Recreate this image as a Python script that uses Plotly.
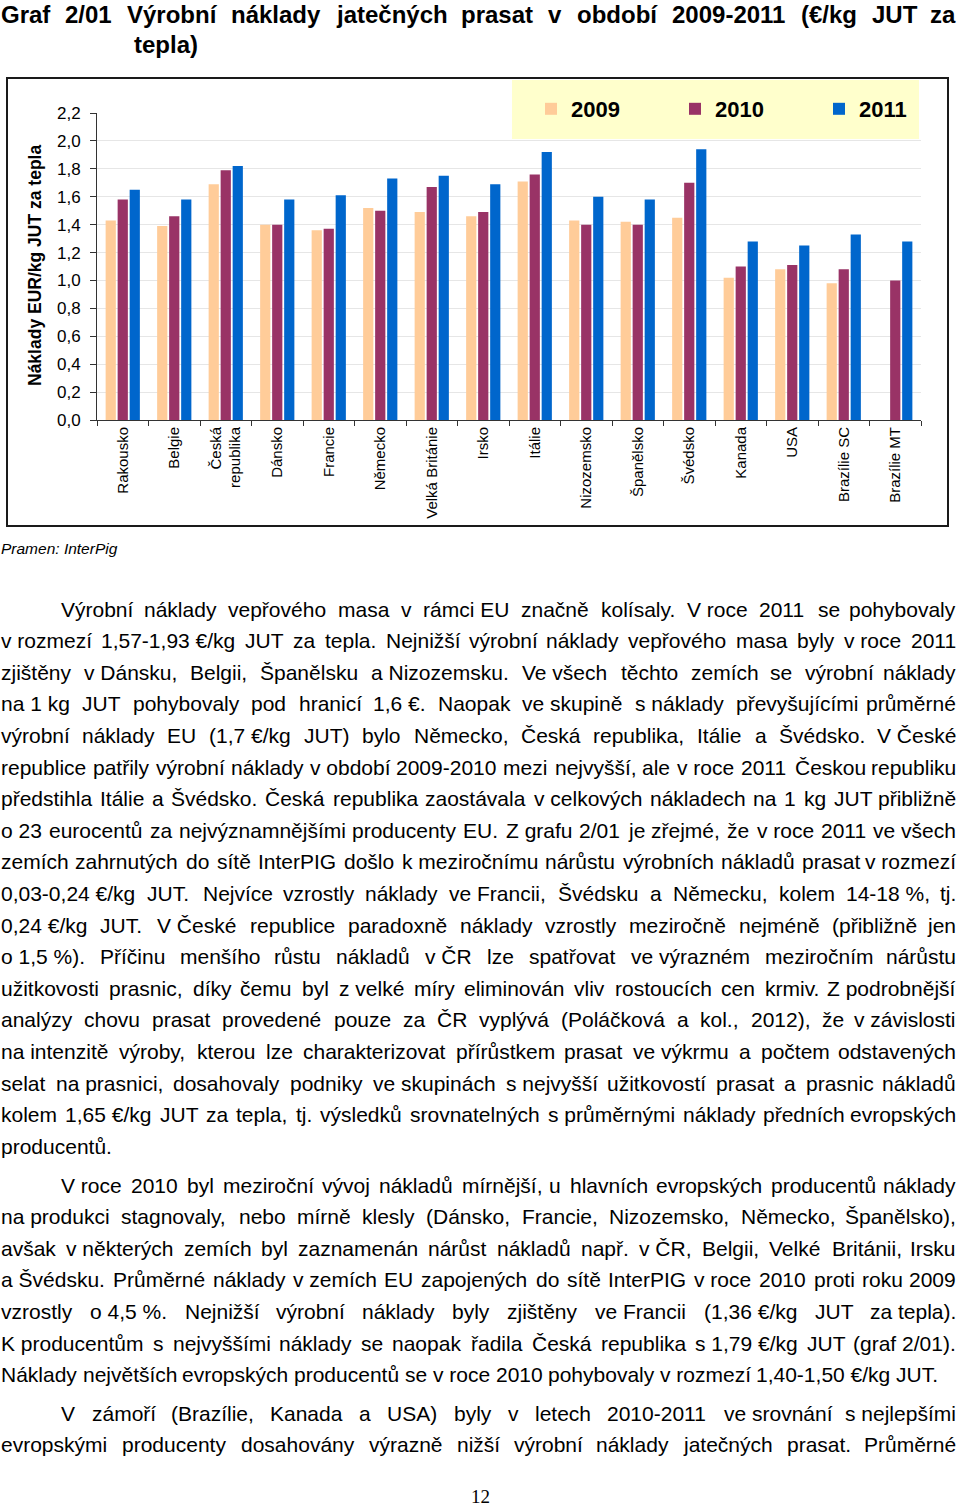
import unicodedata
import plotly.graph_objects as go

# ---------------- data ----------------
categories = ["Rakousko", "Belgie", "Česká republika", "Dánsko", "Francie", "Německo",
              "Velká Británie", "Irsko", "Itálie", "Nizozemsko", "Španělsko", "Švédsko",
              "Kanada", "USA", "Brazílie SC", "Brazílie MT"]
tick_labels = ["Rakousko", "Belgie", "Česká<br>republika", "Dánsko", "Francie", "Německo",
               "Velká Británie", "Irsko", "Itálie", "Nizozemsko", "Španělsko", "Švédsko",
               "Kanada", "USA", "Brazílie SC", "Brazílie MT"]
costs_2009 = [1.43, 1.39, 1.69, 1.40, 1.36, 1.52, 1.49, 1.46, 1.71, 1.43, 1.42, 1.45,
              1.02, 1.08, 0.98, None]
costs_2010 = [1.58, 1.46, 1.79, 1.40, 1.37, 1.50, 1.67, 1.49, 1.76, 1.40, 1.40, 1.70,
              1.10, 1.11, 1.08, 1.00]
costs_2011 = [1.65, 1.58, 1.82, 1.58, 1.61, 1.73, 1.75, 1.69, 1.92, 1.60, 1.58, 1.94,
              1.28, 1.25, 1.33, 1.28]
series_names = ["2009", "2010", "2011"]
y_tick_vals = [0.0, 0.2, 0.4, 0.6, 0.8, 1.0, 1.2, 1.4, 1.6, 1.8, 2.0, 2.2]
y_tick_text = ["0,0", "0,2", "0,4", "0,6", "0,8", "1,0", "1,2", "1,4", "1,6", "1,8", "2,0", "2,2"]

title_lines = ["Graf 2/01 Výrobní náklady jatečných prasat v období 2009-2011 (€/kg JUT za",
               "tepla)"]
y_title = "Náklady EUR/kg JUT za tepla"
source_text = "Pramen: InterPig"
page_number = "12"

paragraphs = [
    [
        "Výrobní náklady vepřového masa v rámci_EU značně kolísaly. V_roce 2011 se pohybovaly",
        "v_rozmezí 1,57-1,93_€/kg JUT za tepla. Nejnižší výrobní náklady vepřového masa byly v_roce 2011",
        "zjištěny v_Dánsku, Belgii, Španělsku a_Nizozemsku. Ve_všech těchto zemích se výrobní náklady",
        "na_1_kg JUT pohybovaly pod hranicí 1,6_€. Naopak ve_skupině s_náklady převyšujícími průměrné",
        "výrobní náklady EU (1,7_€/kg JUT) bylo Německo, Česká republika, Itálie a Švédsko. V_České",
        "republice patřily výrobní náklady v_období 2009-2010 mezi nejvyšší, ale v_roce 2011 Českou republiku",
        "předstihla Itálie a Švédsko. Česká republika zaostávala v_celkových nákladech na 1 kg JUT přibližně",
        "o_23 eurocentů za nejvýznamnějšími producenty EU. Z_grafu 2/01 je zřejmé, že v_roce 2011 ve_všech",
        "zemích zahrnutých do sítě InterPIG došlo k_meziročnímu nárůstu výrobních nákladů prasat v_rozmezí",
        "0,03-0,24_€/kg JUT. Nejvíce vzrostly náklady ve_Francii, Švédsku a Německu, kolem 14-18_%, tj.",
        "0,24_€/kg JUT. V_České republice paradoxně náklady vzrostly meziročně nejméně (přibližně jen",
        "o_1,5_%). Příčinu menšího růstu nákladů v_ČR lze spatřovat ve_výrazném meziročním nárůstu",
        "užitkovosti prasnic, díky čemu byl z_velké míry eliminován vliv rostoucích cen krmiv. Z_podrobnější",
        "analýzy chovu prasat provedené pouze za ČR vyplývá (Poláčková a kol., 2012), že v_závislosti",
        "na_intenzitě výroby, kterou lze charakterizovat přírůstkem prasat ve_výkrmu a počtem odstavených",
        "selat na_prasnici, dosahovaly podniky ve_skupinách s_nejvyšší užitkovostí prasat a prasnic nákladů",
        "kolem 1,65_€/kg JUT za tepla, tj. výsledků srovnatelných s_průměrnými náklady předních evropských",
        "producentů.",
    ],
    [
        "V_roce 2010 byl meziroční vývoj nákladů mírnější, u hlavních evropských producentů náklady",
        "na_produkci stagnovaly, nebo mírně klesly (Dánsko, Francie, Nizozemsko, Německo, Španělsko),",
        "avšak v_některých zemích byl zaznamenán nárůst nákladů např. v_ČR, Belgii, Velké Británii, Irsku",
        "a_Švédsku. Průměrné náklady v_zemích EU zapojených do sítě InterPIG v_roce 2010 proti roku 2009",
        "vzrostly o_4,5_%. Nejnižší výrobní náklady byly zjištěny ve_Francii (1,36_€/kg JUT za_tepla).",
        "K_producentům s nejvyššími náklady se naopak řadila Česká republika s_1,79_€/kg JUT (graf_2/01).",
        "Náklady největších evropských producentů se v_roce 2010 pohybovaly v_rozmezí 1,40-1,50_€/kg JUT.",
    ],
    [
        "V zámoří (Brazílie, Kanada a USA) byly v letech 2010-2011 ve_srovnání s_nejlepšími",
        "evropskými producenty dosahovány výrazně nižší výrobní náklady jatečných prasat. Průměrné",
    ],
]

# ---------------- geometry helpers ----------------
FIG_W, FIG_H = 960, 1507
PL, PR, PT, PB = 97, 921, 113, 420   # plot area in pixels
PW, PH = PR - PL, PB - PT


def px_x(px):
    return (px - PL) / PW


def px_y(py):
    return (PB - py) / PH


# Arial / Liberation Sans advance widths (1/1000 em)
REG = dict(zip(" !%(),-./0123456789:;€", [278, 278, 889, 333, 333, 278, 333, 278, 278] + [556] * 10 + [278, 278, 556]))
REG.update(dict(zip("ABCDEFGHIJKLMNOPQRSTUVWXYZ",
                    [667, 667, 722, 722, 667, 611, 778, 722, 278, 500, 667, 556, 833, 722, 778, 667, 778, 722, 667, 611, 722, 667, 944, 667, 667, 611])))
REG.update(dict(zip("abcdefghijklmnopqrstuvwxyz",
                    [556, 556, 500, 556, 556, 278, 556, 556, 222, 222, 500, 222, 833, 556, 556, 556, 556, 333, 500, 278, 556, 500, 722, 500, 500, 500])))
BOLD = dict(zip(" !%(),-./0123456789:;€", [278, 333, 889, 333, 333, 278, 333, 278, 278] + [556] * 10 + [333, 333, 556]))
BOLD.update(dict(zip("ABCDEFGHIJKLMNOPQRSTUVWXYZ",
                     [722, 722, 722, 722, 667, 611, 778, 722, 278, 556, 722, 611, 833, 722, 778, 667, 778, 722, 667, 611, 722, 667, 944, 667, 667, 611])))
BOLD.update(dict(zip("abcdefghijklmnopqrstuvwxyz",
                     [556, 611, 556, 611, 556, 333, 611, 611, 278, 278, 556, 278, 889, 611, 611, 611, 611, 389, 556, 333, 611, 556, 778, 556, 556, 500])))


def char_w(ch, table):
    if ch in table:
        return table[ch]
    base = unicodedata.normalize("NFD", ch)[0]
    return table.get(base, 556)


def text_w(s, size, table):
    return sum(char_w(c, table) for c in s) * size / 1000.0


SANS = "Liberation Sans, Arial, sans-serif"
annotations = []


def place_line(line, left, right, yc, size, bold=False, justify=True, color="black"):
    table = BOLD if bold else REG
    tokens = [t.replace("_", " ") for t in line.split(" ")]
    widths = [text_w(t, size, table) for t in tokens]
    n = len(tokens)
    if justify and n > 1:
        gap = (right - left - sum(widths)) / (n - 1)
    else:
        gap = char_w(" ", table) * size / 1000.0
    x = left
    for i, (tok, w) in enumerate(zip(tokens, widths)):
        txt = "<b>%s</b>" % tok if bold else tok
        if justify and n > 1 and i == n - 1:
            annotations.append(dict(x=px_x(right), y=px_y(yc), xref="paper", yref="paper",
                                    text=txt, showarrow=False, xanchor="right", yanchor="middle",
                                    borderpad=0, font=dict(family=SANS, size=size, color=color)))
        else:
            annotations.append(dict(x=px_x(x), y=px_y(yc), xref="paper", yref="paper",
                                    text=txt, showarrow=False, xanchor="left", yanchor="middle",
                                    borderpad=0, font=dict(family=SANS, size=size, color=color)))
        x += w + gap


# ---------------- title ----------------
t_units = text_w(title_lines[0], 1, BOLD)
TITLE_SIZE = min(24.0, 950.0 / t_units)
place_line(title_lines[0], 0, 957, 14, TITLE_SIZE, bold=True, justify=True)
place_line(title_lines[1], 133, 957, 45, TITLE_SIZE, bold=True, justify=False)

# ---------------- body text ----------------
BODY = 21
para_starts = [609, 1185, 1413]
LINE_H = 31.6
for p, y0 in zip(paragraphs, para_starts):
    for i, line in enumerate(p):
        left = 60 if i == 0 else 0
        last = (i == len(p) - 1) and len(p) > 2
        place_line(line, left, 957, y0 + i * LINE_H, BODY, justify=not last)

# source, page number, y axis title
annotations.append(dict(x=px_x(0), y=px_y(548), xref="paper", yref="paper", text="<i>%s</i>" % source_text,
                        showarrow=False, xanchor="left", yanchor="middle", borderpad=0,
                        font=dict(family=SANS, size=15.5, color="black")))
annotations.append(dict(x=px_x(480), y=px_y(1508), xref="paper", yref="paper", text=page_number,
                        showarrow=False, xanchor="center", yanchor="bottom", borderpad=0,
                        font=dict(family="Liberation Serif, Times New Roman, serif", size=19, color="black")))
annotations.append(dict(x=px_x(35), y=px_y(266), xref="paper", yref="paper", text="<b>%s</b>" % y_title,
                        showarrow=False, textangle=-90, xanchor="center", yanchor="middle",
                        font=dict(family=SANS, size=17.5, color="black")))

# ---------------- chart ----------------
colors = ["#FFCC99", "#993366", "#0066CC"]
fig = go.Figure()
for name, vals, col in zip(series_names, [costs_2009, costs_2010, costs_2011], colors):
    fig.add_trace(go.Bar(name=name, x=categories, y=vals, marker=dict(color=col, line=dict(width=0))))

shapes = [
    dict(type="rect", xref="paper", yref="paper", x0=px_x(7), x1=px_x(948), y0=px_y(526), y1=px_y(78),
         line=dict(color="#1a1a1a", width=2), fillcolor="rgba(0,0,0,0)", layer="above"),
    dict(type="rect", xref="paper", yref="paper", x0=px_x(512), x1=px_x(919), y0=px_y(139), y1=px_y(80),
         line=dict(width=0), fillcolor="#FFFFCC", layer="above"),
]

fig.update_layout(
    width=FIG_W, height=FIG_H, autosize=False,
    margin=dict(l=PL, r=FIG_W - PR, t=PT, b=FIG_H - PB, pad=0, autoexpand=False),
    paper_bgcolor="white", plot_bgcolor="white",
    barmode="group", bargap=0.3, bargroupgap=0.15,
    font=dict(family=SANS, color="black"),
    showlegend=True,
    legend=dict(orientation="h", x=px_x(531), y=px_y(109), xanchor="left", yanchor="middle",
                bgcolor="rgba(0,0,0,0)", borderwidth=0, traceorder="normal",
                font=dict(family=SANS, size=22, color="black", weight="bold"),
                entrywidth=99, entrywidthmode="pixels"),
    xaxis=dict(tickmode="array", tickvals=categories, ticktext=tick_labels, tickangle=-90,
               tickfont=dict(family=SANS, size=15, color="black"),
               showline=True, linecolor="#333333", linewidth=1,
               ticks="outside", ticklen=5, tickcolor="#333333", tickson="boundaries",
               showgrid=False, range=[-0.5, 15.5], automargin=False),
    yaxis=dict(range=[0, 2.2], tickmode="array", tickvals=y_tick_vals, ticktext=y_tick_text,
               tickfont=dict(family=SANS, size=17, color="black"),
               showline=True, linecolor="#333333", linewidth=1,
               ticks="outside", ticklen=6, tickcolor="#333333", automargin=False,
               ticklabelstandoff=6,
               showgrid=True, gridcolor="#E6E6E6", gridwidth=1, zeroline=False),
    shapes=shapes,
    annotations=annotations,
)

fig.write_html("out.html")
